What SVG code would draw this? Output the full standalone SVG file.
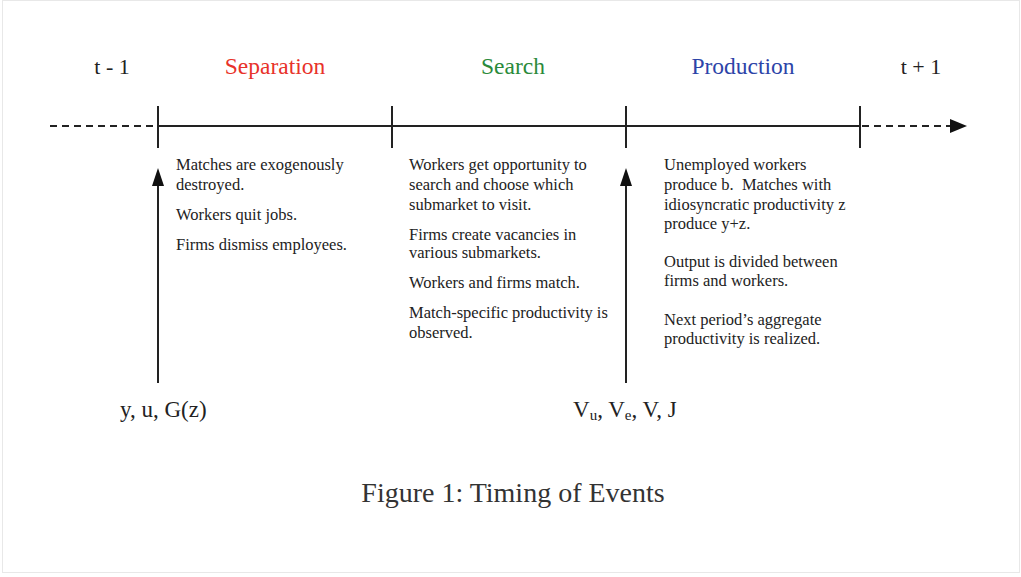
<svg xmlns="http://www.w3.org/2000/svg" width="1021" height="577" viewBox="0 0 1021 577">
<defs>
<style>
.hd{font-family:"Liberation Serif",serif;font-size:23.5px;text-anchor:middle}
.hdt{font-family:"Liberation Serif",serif;font-size:22px;text-anchor:middle;fill:#222}
.bd{font-family:"Liberation Serif",serif;font-size:16.5px;fill:#222}
.lb{font-family:"Liberation Serif",serif;font-size:23px;fill:#222}
.ax{stroke:#222;stroke-width:2;fill:none}
.dash{stroke:#222;stroke-width:2;stroke-dasharray:7,5;fill:none}
.tick{stroke:#222;stroke-width:2}
</style>
</defs>
<rect x="0" y="0" width="1021" height="577" fill="#fff"/>
<rect x="2.5" y="0.5" width="1017" height="572" fill="none" stroke="#e8e8e8"/>

<g id="headers">
<text class="hdt" x="112" y="74">t - 1</text>
<text class="hd" x="275" y="74" fill="#e8322a">Separation</text>
<text class="hd" x="513" y="74" fill="#2a8a3a">Search</text>
<text class="hd" x="743" y="74" fill="#2c44a8">Production</text>
<text class="hdt" x="921" y="74">t + 1</text>
</g>

<g id="connectors">
<line class="dash" x1="50" y1="126" x2="158" y2="126"/>
<line class="ax" x1="158" y1="126" x2="860" y2="126"/>
<line class="dash" x1="862" y1="126" x2="950" y2="126"/>
<path d="M950,119 L967,126 L950,133 z" fill="#111"/>
<line class="tick" x1="158" y1="106" x2="158" y2="148"/>
<line class="tick" x1="392" y1="106" x2="392" y2="148"/>
<line class="tick" x1="626" y1="106" x2="626" y2="148"/>
<line class="tick" x1="860" y1="106" x2="860" y2="148"/>
<line class="ax" x1="158" y1="383" x2="158" y2="185"/>
<path d="M152,186 L158,168 L164,186 z" fill="#111"/>
<line class="ax" x1="626" y1="383" x2="626" y2="185"/>
<path d="M620,186 L626,168 L632,186 z" fill="#111"/>
</g>

<g id="separation">
<text class="bd" x="176" y="170">Matches are exogenously</text>
<text class="bd" x="176" y="190">destroyed.</text>
<text class="bd" x="176" y="220">Workers quit jobs.</text>
<text class="bd" x="176" y="250">Firms dismiss employees.</text>
</g>

<g id="search">
<text class="bd" x="409" y="170">Workers get opportunity to</text>
<text class="bd" x="409" y="190">search and choose which</text>
<text class="bd" x="409" y="210">submarket to visit.</text>
<text class="bd" x="409" y="240">Firms create vacancies in</text>
<text class="bd" x="409" y="258">various submarkets.</text>
<text class="bd" x="409" y="288">Workers and firms match.</text>
<text class="bd" x="409" y="318">Match-specific productivity is</text>
<text class="bd" x="409" y="338">observed.</text>
</g>

<g id="production">
<text class="bd" x="664" y="170">Unemployed workers</text>
<text class="bd" x="664" y="190" xml:space="preserve">produce b.  Matches with</text>
<text class="bd" x="664" y="210">idiosyncratic productivity z</text>
<text class="bd" x="664" y="229">produce y+z.</text>
<text class="bd" x="664" y="267">Output is divided between</text>
<text class="bd" x="664" y="286">firms and workers.</text>
<text class="bd" x="664" y="325">Next period’s aggregate</text>
<text class="bd" x="664" y="344">productivity is realized.</text>
</g>

<g id="state-vars">
<text class="lb" x="120" y="417">y, u, G(z)</text>
</g>
<g id="value-fns">
<text class="lb" x="573" y="417">V<tspan font-size="15" dy="3">u</tspan><tspan dy="-3">, V</tspan><tspan font-size="15" dy="3">e</tspan><tspan dy="-3">, V, J</tspan></text>
</g>

<g id="caption">
<text x="513" y="502" text-anchor="middle" style="font-family:'Liberation Serif',serif;font-size:28px;fill:#333">Figure 1: Timing of Events</text>
</g>
</svg>
